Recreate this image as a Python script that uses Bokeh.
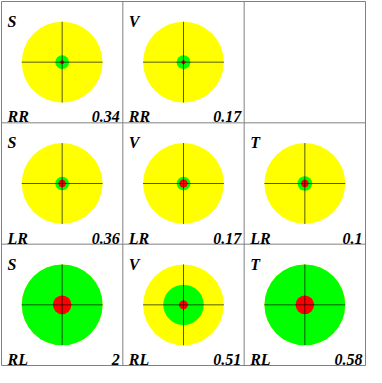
from bokeh.plotting import figure
from bokeh.models import Range1d, ColumnDataSource
from bokeh.core.properties import value
from bokeh.embed import file_html
from bokeh.resources import INLINE

# ---- data ----
col_names = ["S", "V", "T"]
row_names = ["RR", "LR", "RL"]
panel_rows = ["RR", "RR", "LR", "LR", "LR", "RL", "RL", "RL"]
panel_cols = ["S", "V", "S", "V", "T", "S", "V", "T"]
panel_values = ["0.34", "0.17", "0.36", "0.17", "0.1", "2", "0.51", "0.58"]
# radii relative to the outer (yellow) circle
yellow_r = [1.0, 1.0, 1.0, 1.0, 1.0, 1.0, 1.0, 1.0]
green_r = [0.17, 0.17, 0.17, 0.17, 0.18, 1.0, 0.5, 1.0]
red_r = [0.05, 0.05, 0.09, 0.1, 0.09, 0.23, 0.11, 0.23]

OUTER = 0.333  # outer circle radius in cell units
FONT = value("Liberation Serif")

cx = [col_names.index(c) + 0.5 for c in panel_cols]
cy = [2.5 - row_names.index(r) for r in panel_rows]
cleft = [col_names.index(c) for c in panel_cols]
cright = [col_names.index(c) + 1 for c in panel_cols]
ctop = [3 - row_names.index(r) for r in panel_rows]
cbot = [2 - row_names.index(r) for r in panel_rows]

src = ColumnDataSource(dict(
    x=cx, y=cy,
    ry=[OUTER * v for v in yellow_r],
    rg=[OUTER * v for v in green_r],
    rr=[OUTER * v for v in red_r],
    left=cleft, right=cright, top=ctop, bot=cbot,
    col=panel_cols, row=panel_rows, val=panel_values,
    hx0=[x - OUTER * v for x, v in zip(cx, yellow_r)],
    hx1=[x + OUTER * v for x, v in zip(cx, yellow_r)],
    vy0=[y - OUTER * v for y, v in zip(cy, yellow_r)],
    vy1=[y + OUTER * v for y, v in zip(cy, yellow_r)],
))

p = figure(width=366, height=366, output_backend="svg", toolbar_location=None,
           x_range=Range1d(0, 3), y_range=Range1d(0, 3), min_border=1)
p.axis.visible = False
p.grid.visible = False
p.outline_line_color = "#808080"
p.outline_line_width = 1
p.background_fill_color = "white"
p.border_fill_color = "white"

# panel grid lines
p.segment(x0=[1, 2, 0, 0], y0=[0, 0, 1, 2], x1=[1, 2, 3, 3], y1=[3, 3, 1, 2],
          line_color="#808080", line_width=1)

p.circle(x="x", y="y", radius="ry", source=src, fill_color="#ffff00", line_color=None)
p.circle(x="x", y="y", radius="rg", source=src, fill_color="#00ff00", line_color=None)
p.circle(x="x", y="y", radius="rr", source=src, fill_color="#ff0000", line_color=None)

p.segment(x0="hx0", y0="y", x1="hx1", y1="y", source=src, line_color="black",
          line_alpha=0.65, line_width=1)
p.segment(x0="x", y0="vy0", x1="x", y1="vy1", source=src, line_color="black",
          line_alpha=0.65, line_width=1)

common = dict(source=src, text_font=FONT, text_font_style="bold italic",
              text_font_size="16px", text_color="black", text_baseline="alphabetic")
p.text(x="left", y="top", text="col", x_offset=6, y_offset=20, text_align="left", **common)
p.text(x="left", y="bot", text="row", x_offset=6, y_offset=-6, text_align="left", **common)
p.text(x="right", y="bot", text="val", x_offset=-3, y_offset=-6, text_align="right", **common)

open("out.html", "w").write(file_html(p, INLINE))
